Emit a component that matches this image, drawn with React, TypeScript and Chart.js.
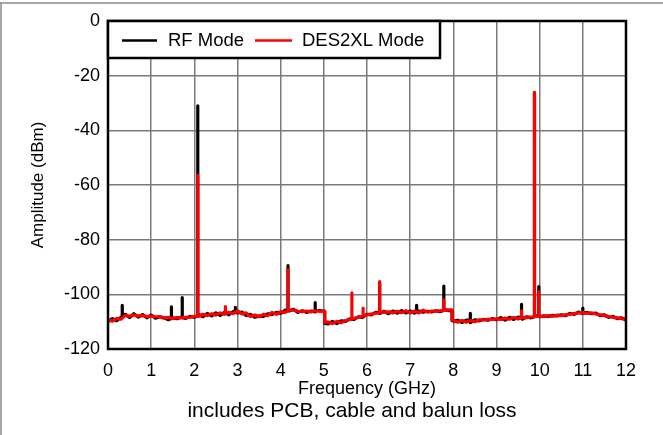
import React, { useEffect, useRef } from "react";
import { Chart, registerables } from "chart.js";

Chart.register(...registerables);

// Frequency grid of noise floor samples (GHz)
const FREQ_STEP = 0.1;
const X_TICKS = [0, 1, 2, 3, 4, 5, 6, 7, 8, 9, 10, 11, 12];
const Y_TICKS = [0, -20, -40, -60, -80, -100, -120];

// Noise floor, RF Mode (dBm), one value per 0.1 GHz from 0 to 12 GHz
const RF_FLOOR = [
  -109.9, -108.9, -109.7, -108.4,
  -107.3, -108.5, -107.1, -108.3, -107.4, -108.6, -107.6,
  -108.7, -108.2, -108.6, -109.3, -108.6, -108.9, -108.3, -108.8, -108.1, -108.4,
  -107.3, -108.2, -107.0, -107.9, -106.8, -107.7, -106.6, -107.5, -106.3, -106.8,
  -106.5, -107.7, -107.3, -108.4, -107.9, -108.1, -107.1, -107.4, -106.6, -107.0,
  -105.8, -106.1, -105.5, -106.6, -106.0, -106.6, -106.1, -106.4, -105.9, -106.2,
  -110.8, -109.9, -110.7, -109.7, -109.9, -109.0, -109.2, -108.2, -108.4, -107.3,
  -107.5, -106.6, -107.0, -106.2, -107.1, -106.1, -106.9, -106.0, -106.8, -106.1,
  -106.9, -106.1, -106.5, -106.2, -106.4, -106.0, -106.3, -105.6, -106.0, -109.8,
  -109.5, -110.3, -109.4, -110.4, -109.3, -109.7, -109.2, -109.5, -108.9, -109.3,
  -108.5, -109.4, -108.4, -109.2, -108.3, -109.1, -108.2, -108.6, -107.8, -108.2,
  -107.9, -108.1, -107.7, -107.9, -107.5, -107.8, -107.0, -107.3, -106.5, -107.0,
  -106.7, -107.1, -106.9, -107.8, -107.5, -108.4, -108.1, -108.9, -108.6, -109.4,
];

// Noise floor, DES2XL Mode (dBm)
const DES_FLOOR = [
  -109.3, -109.8, -108.8, -109.1,
  -107.7, -108.0, -107.5, -107.9, -107.8, -108.1, -108.0,
  -108.2, -108.2, -108.7, -108.4, -108.9, -108.5, -108.6, -108.4, -108.4, -108.1,
  -108.1, -107.3, -107.8, -107.1, -107.6, -106.8, -107.3, -106.6, -107.1, -106.0,
  -107.2, -106.8, -108.1, -107.6, -108.2, -107.3, -107.8, -106.6, -107.3, -106.3,
  -106.6, -105.7, -105.8, -106.2, -106.3, -106.1, -106.4, -106.0, -106.2, -106.1,
  -110.1, -110.7, -109.9, -110.4, -109.6, -109.2, -108.8, -108.4, -108.0, -107.5,
  -107.2, -106.9, -106.7, -106.5, -106.4, -106.8, -106.2, -106.7, -106.0, -106.8,
  -106.1, -106.8, -105.8, -106.5, -106.1, -106.2, -106.0, -105.9, -105.7, -109.5,
  -110.2, -109.6, -110.2, -109.6, -110.0, -109.3, -109.4, -109.1, -109.2, -109.0,
  -109.2, -108.7, -109.1, -108.5, -109.0, -108.4, -108.5, -108.3, -108.0, -107.9,
  -108.2, -107.8, -108.0, -107.6, -107.8, -107.5, -107.3, -107.0, -106.8, -106.7,
  -107.0, -106.8, -107.2, -107.5, -107.8, -108.1, -108.4, -108.6, -108.9, -109.1,
];

// Abrupt floor steps: [frequency GHz, level before dBm, level after dBm]
const RF_STEPS: [number, number, number][] = [
  [5.02, -106.2, -110.6],
  [7.97, -106.0, -109.6],
];
const DES_STEPS: [number, number, number][] = [
  [5.02, -106.1, -110.3],
  [7.97, -105.7, -109.4],
];

// Spurs: [frequency GHz, base dBm, peak dBm]
const RF_SPURS: [number, number, number][] = [
  [0.33, -108.3, -104],
  [1.47, -108.8, -104.6],
  [1.72, -108.5, -101.2],
  [2.08, -107.8, -31],
  [2.95, -106.5, -104.8],
  [4.17, -106.0, -89.5],
  [4.8, -106.2, -103],
  [6.29, -106.8, -96],
  [7.15, -106.5, -104],
  [7.78, -105.9, -97],
  [8.39, -109.5, -107],
  [9.58, -108.6, -103.7],
  [9.88, -108.2, -26.2],
  [9.98, -108.0, -97.2],
  [11.0, -106.8, -105],
];

const DES_SPURS: [number, number, number][] = [
  [2.08, -107.8, -56.5],
  [2.72, -107.0, -104.5],
  [4.17, -106.0, -91],
  [5.65, -109.0, -99.5],
  [5.91, -108.0, -105],
  [6.29, -106.8, -95.3],
  [7.78, -105.9, -102],
  [9.58, -108.6, -106],
  [9.88, -108.2, -26.2],
  [9.98, -108.0, -99],
];

const SERIES_NAMES = ["RF Mode", "DES2XL Mode"];
const SERIES_COLORS = ["#000000", "#ff0000"];

const X_TITLE = "Frequency (GHz)";
const Y_TITLE = "Amplitude (dBm)";
const CAPTION = "includes PCB, cable and balun loss";

const FONT = "'Liberation Sans', Arial, sans-serif";

function buildPoints(
  floor: number[],
  steps: [number, number, number][],
  spurs: [number, number, number][]
) {
  const pts: { x: number; y: number }[] = floor.map((y, i) => ({
    x: Math.round(i * FREQ_STEP * 100) / 100,
    y,
  }));
  steps.forEach(([f, before, after]) => {
    pts.push({ x: f, y: before }, { x: f, y: after });
  });
  spurs.forEach(([f, base, peak]) => {
    pts.push({ x: f, y: base }, { x: f, y: peak }, { x: f, y: base });
  });
  return pts
    .map((p, i) => ({ p, i }))
    .sort((a, b) => a.p.x - b.p.x || a.i - b.i)
    .map((o) => o.p);
}

const decorPlugin = {
  id: "decor",
  afterDraw(chart: any) {
    const { ctx, chartArea } = chart;
    const { left, top, right, bottom } = chartArea;
    ctx.save();
    // outer frame lines
    ctx.strokeStyle = "#8c8c8c";
    ctx.lineWidth = 1.5;
    ctx.beginPath();
    ctx.moveTo(0, 3);
    ctx.lineTo(chart.width, 3);
    ctx.moveTo(1, 3);
    ctx.lineTo(1, chart.height);
    ctx.stroke();

    // plot border
    ctx.strokeStyle = "#000";
    ctx.lineWidth = 2.5;
    ctx.strokeRect(left, top, right - left, bottom - top);

    // legend box
    const lw = 332;
    const lh = 37;
    ctx.fillStyle = "#fff";
    ctx.fillRect(left, top, lw, lh);
    ctx.lineWidth = 2.5;
    ctx.strokeStyle = "#000";
    ctx.strokeRect(left, top, lw, lh);
    const ly = top + lh / 2 + 1;
    ctx.font = `18.5px ${FONT}`;
    ctx.textBaseline = "middle";
    ctx.textAlign = "left";
    ctx.lineWidth = 2.5;
    ctx.strokeStyle = SERIES_COLORS[0];
    ctx.beginPath();
    ctx.moveTo(left + 14, ly);
    ctx.lineTo(left + 49, ly);
    ctx.stroke();
    ctx.fillStyle = "#000";
    ctx.fillText(SERIES_NAMES[0], left + 60, ly);
    ctx.strokeStyle = SERIES_COLORS[1];
    ctx.beginPath();
    ctx.moveTo(left + 147, ly);
    ctx.lineTo(left + 184, ly);
    ctx.stroke();
    ctx.fillText(SERIES_NAMES[1], left + 194, ly);

    // axis titles and caption
    ctx.fillStyle = "#000";
    ctx.textAlign = "center";
    ctx.font = `18px ${FONT}`;
    ctx.fillText(X_TITLE, (left + right) / 2, 389);
    ctx.font = `21px ${FONT}`;
    ctx.fillText(CAPTION, 352, 411);
    ctx.save();
    ctx.translate(38, (top + bottom) / 2);
    ctx.rotate(-Math.PI / 2);
    ctx.font = `17px ${FONT}`;
    ctx.fillText(Y_TITLE, 0, 0);
    ctx.restore();
    ctx.restore();
  },
};

export default function App() {
  const ref = useRef<HTMLCanvasElement>(null);
  useEffect(() => {
    document.body.style.margin = "0";
    const canvas = ref.current;
    if (!canvas) return;
    const chart = new Chart(canvas, {
      type: "line",
      data: {
        datasets: [
          {
            label: SERIES_NAMES[0],
            data: buildPoints(RF_FLOOR, RF_STEPS, RF_SPURS),
            borderColor: SERIES_COLORS[0],
            borderWidth: 3.2,
            borderJoinStyle: "round",
            pointRadius: 0,
            tension: 0,
            order: 2,
          },
          {
            label: SERIES_NAMES[1],
            data: buildPoints(DES_FLOOR, DES_STEPS, DES_SPURS),
            borderColor: SERIES_COLORS[1],
            borderWidth: 3.2,
            borderJoinStyle: "round",
            pointRadius: 0,
            tension: 0,
            order: 1,
          },
        ],
      },
      options: {
        responsive: false,
        animation: false,
        layout: { padding: { top: 21, right: 37, bottom: 0, left: 0 } },
        plugins: {
          legend: { display: false },
          tooltip: { enabled: false },
          title: { display: false },
        },
        scales: {
          x: {
            type: "linear",
            min: 0,
            max: 12,
            afterBuildTicks: (s: any) => {
              s.ticks = X_TICKS.map((v) => ({ value: v }));
            },
            afterFit: (s: any) => {
              s.height = 86;
            },
            grid: { color: "#7a7a7a", lineWidth: 1.5, drawTicks: false },
            border: { display: false },
            ticks: {
              color: "#000",
              font: { family: FONT, size: 18 },
              padding: 11,
              maxRotation: 0,
              autoSkip: false,
            },
          },
          y: {
            type: "linear",
            min: -120,
            max: 0,
            afterBuildTicks: (s: any) => {
              s.ticks = Y_TICKS.map((v) => ({ value: v }));
            },
            afterFit: (s: any) => {
              s.width = 108;
            },
            grid: { color: "#7a7a7a", lineWidth: 1.5, drawTicks: false },
            border: { display: false },
            ticks: {
              color: "#000",
              font: { family: FONT, size: 18 },
              padding: 8,
              autoSkip: false,
            },
          },
        },
      },
      plugins: [decorPlugin],
    });
    return () => chart.destroy();
  }, []);
  return (
    <div style={{ width: 663, height: 435, background: "#fff" }}>
      <canvas ref={ref} width={663} height={435} />
    </div>
  );
}
